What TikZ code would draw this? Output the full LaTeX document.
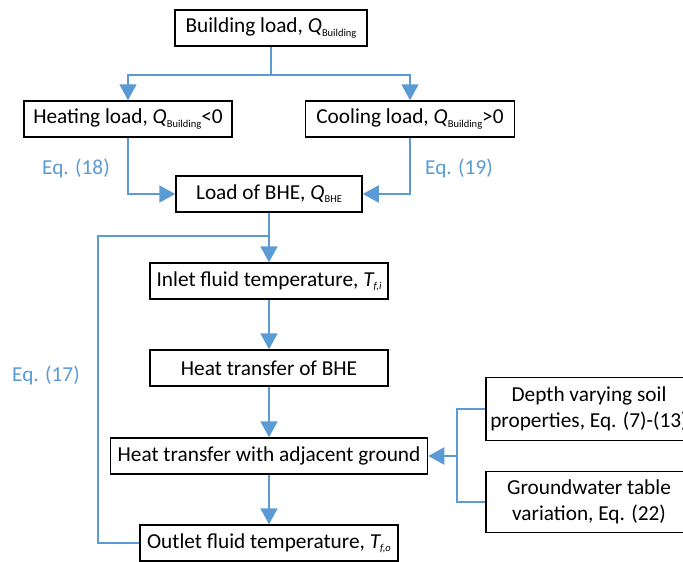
\documentclass[tikz,border=0pt]{standalone}
\usepackage{fontspec}
\setmainfont{Carlito}
\usetikzlibrary{arrows.meta}
\definecolor{flowblue}{RGB}{91,155,213}
\newcommand{\subtxt}[1]{\raisebox{-0.3ex}{\fontsize{10.5}{10.5}\selectfont #1}}

\begin{document}
\begin{tikzpicture}[x=1pt,y=-1pt,
	box/.style={draw,line width=1.5pt,minimum height=36pt,inner sep=4pt,font=\fontsize{21.3}{26}\selectfont},
	flow/.style={draw=flowblue,line width=2pt},
	arr/.style={flow,-{Triangle[length=16pt,width=17pt]}},
	eqlabel/.style={text=flowblue,font=\fontsize{21.3}{26}\selectfont}]
	\useasboundingbox (0,0) rectangle (683,562);

	% load side
	\node[box,minimum width=192pt] (bload) at (271,28) {Building load, \textit{Q}\subtxt{Building}};
	\node[box,minimum width=208pt] (heat) at (128,119) {Heating load, \textit{Q}\subtxt{Building}<0};
	\node[box,minimum width=209pt] (cool) at (410,119) {Cooling load, \textit{Q}\subtxt{Building}>0};
	\node[box,minimum width=186pt] (bhe) at (269,194) {Load of BHE, \textit{Q}\subtxt{BHE}};

	% BHE column
	\node[box,minimum width=238pt] (inlet) at (269,281) {Inlet fluid temperature, \textit{T\subtxt{f,i}}};
	\node[box,minimum width=238pt] (htbhe) at (269,368) {Heat transfer of BHE};
	\node[box,minimum width=317pt] (ground) at (269,456) {Heat transfer with adjacent ground};
	\node[box,minimum width=258pt] (outlet) at (269,543) {Outlet fluid temperature, \textit{T\subtxt{f,o}}};

	% ground inputs
	\node[box,minimum width=206pt,minimum height=63pt,align=center] (soil) at (589,409) {Depth varying soil\\properties, Eq. (7)-(13)};
	\node[box,minimum width=206pt,minimum height=61pt,align=center] (water) at (589,502) {Groundwater table\\variation, Eq. (22)};

	\node[eqlabel] (eq18) at (76,168) {Eq. (18)};
	\node[eqlabel] (eq19) at (459,168) {Eq. (19)};
	\node[eqlabel] (eq17) at (46,375) {Eq. (17)};

	\coordinate (split) at (271,75);
	\coordinate (join) at (269,236);
	\coordinate (loopcorner) at (98,236);
	\coordinate (brk) at (457,456);

	\draw[flow] (bload.south) -- (split);
	\draw[arr] (split) -| (heat.north);
	\draw[arr] (split) -| (cool.north);
	\draw[arr] (heat.south) |- (bhe.west);
	\draw[arr] (cool.south) |- (bhe.east);
	\draw[arr] (bhe.south) -- (inlet.north);
	\draw[arr] (inlet.south) -- (htbhe.north);
	\draw[arr] (htbhe.south) -- (ground.north);
	\draw[arr] (ground.south) -- (outlet.north);
	\draw[flow] (outlet.west) -| (loopcorner) -- (join);

	\draw[flow] (soil.west) -| (brk) |- (water.west);
	\draw[arr] (brk) -- (ground.east);
\end{tikzpicture}
\end{document}
